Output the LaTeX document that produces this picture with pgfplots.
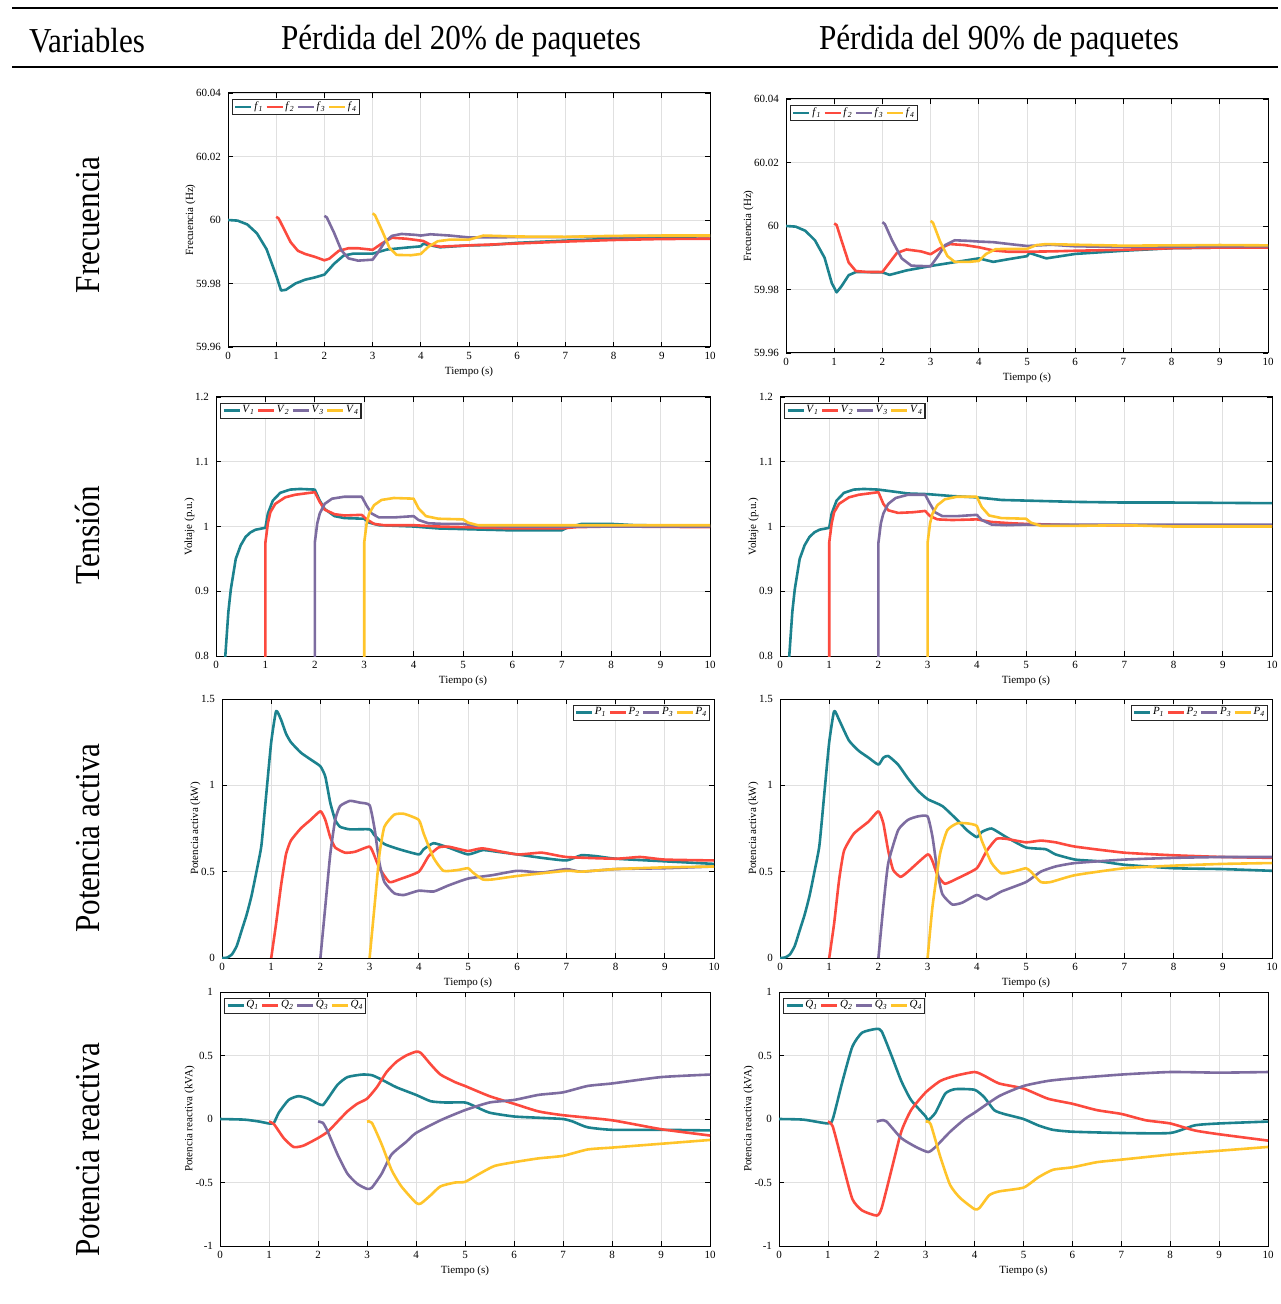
\documentclass[border=0pt]{standalone}
\usepackage{fontspec}
\setmainfont{Liberation Serif}
\usepackage{pgfplots}
\pgfplotsset{compat=1.18}

\definecolor{c1}{RGB}{28,130,142}
\definecolor{c2}{RGB}{252,74,62}
\definecolor{c3}{RGB}{125,108,160}
\definecolor{c4}{RGB}{255,196,42}

\newcommand{\sub}[2]{\textit{#1}\textsubscript{\textit{#2}}}
\newcommand{\plotfont}{\fontsize{5.5}{6}\selectfont}
\newcommand{\hdrtxt}[1]{\scalebox{0.89}[1]{#1}}

\pgfplotsset{
  panel/.style={
    scale only axis,
    anchor=north west,
    xmin=0, xmax=10, xtick={0,...,10},
    grid=major,
    major grid style={draw=black!12, line width=0.4pt},
    axis line style={line width=0.5pt},
    tick align=inside, tick pos=both,
    major tick length=2.5pt,
    tick style={black, line width=0.4pt},
    ticklabel style={font=\plotfont},
    label style={font=\plotfont},
    /pgf/number format/assume math mode=true,
    scaled ticks=false,
    xlabel={Tiempo (s)},
    xticklabel style={yshift=1pt},
    xlabel style={yshift=3pt},
    ylabel style={yshift=-6.5pt},
    legend columns=4,
    legend cell align=left,
    legend style={draw=black!85, line width=0.6pt, fill=white,
      font=\plotfont, inner sep=0.8pt, nodes={inner sep=0.3pt},
      /tikz/every even column/.append style={column sep=0.6pt},
      /tikz/every odd column/.append style={column sep=0.4pt}},
    legend image code/.code={\draw[#1, line width=1.4pt] (0pt,0pt) -- (8pt,0pt);},
    every axis plot/.append style={line width=1.3pt, line join=round, no markers},
  },
  lnw/.style={legend style={at={(0.008,0.977)}, anchor=north west}},
  lne/.style={legend style={at={(0.992,0.977)}, anchor=north east}},
  fq/.style={ymin=59.96, ymax=60.04, ytick={59.96,59.98,60,60.02,60.04},
    ylabel={Frecuencia (Hz)}, yticklabel style={/pgf/number format/precision=2}},
  vv/.style={ymin=0.8, ymax=1.2, ytick={0.8,0.9,1,1.1,1.2}, ylabel={Voltaje (p.u.)}},
  pp/.style={ymin=0, ymax=1.5, ytick={0,0.5,1,1.5}, ylabel={Potencia activa (kW)},
    every axis plot/.append style={smooth, tension=0.3}},
  qq/.style={ymin=-1, ymax=1, ytick={-1,-0.5,0,0.5,1}, ylabel={Potencia reactiva (kVA)},
    every axis plot/.append style={smooth, tension=0.35}},
}

\begin{document}
\begin{tikzpicture}
\useasboundingbox (0pt,0pt) rectangle (640pt,-652pt);

% header
\draw[line width=1pt] (6pt,-4pt) -- (639pt,-4pt);
\draw[line width=1pt] (6pt,-33.5pt) -- (639pt,-33.5pt);
\begin{scope}[every node/.style={font=\fontsize{17.5}{20}\selectfont, inner sep=0pt}]
\node at (43.5pt,-20.5pt) {\hdrtxt{Variables}};
\node at (230.5pt,-20.5pt) {\hdrtxt{Pérdida del 20\% de paquetes}};
\node at (499.5pt,-20.5pt) {\hdrtxt{Pérdida del 90\% de paquetes}};
\node[rotate=90] at (44pt,-112.5pt) {\hdrtxt{Frecuencia}};
\node[rotate=90] at (44pt,-267.5pt) {\hdrtxt{Tensión}};
\node[rotate=90] at (44pt,-419pt) {\hdrtxt{Potencia activa}};
\node[rotate=90] at (44pt,-575pt) {\hdrtxt{Potencia reactiva}};
\end{scope}

% ---------- Frecuencia, 20%
\begin{axis}[panel, fq, lnw, at={(114pt,-46.5pt)}, width=241pt, height=127pt]
\addplot[c1] coordinates {(0,60.0000) (0.2,59.9998) (0.4,59.9986) (0.6,59.9958) (0.8,59.9908) (1.0,59.9825) (1.1,59.9778) (1.2,59.9780) (1.4,59.9800) (1.6,59.9812) (1.8,59.9819) (2.0,59.9828) (2.2,59.9862) (2.4,59.9888) (2.6,59.9894) (3.0,59.9894) (3.3,59.9907) (3.7,59.9913) (4.0,59.9917) (4.05,59.9925) (4.4,59.9914) (5.0,59.9920) (5.4,59.9921) (6,59.9928) (7,59.9935) (8,59.9941) (9,59.9946) (10,59.9949)};
\addplot[c2] coordinates {(1.0,60.0010) (1.05,60.0005) (1.15,59.9975) (1.3,59.9930) (1.45,59.9903) (1.6,59.9893) (1.8,59.9884) (2.0,59.9873) (2.1,59.9878) (2.3,59.9903) (2.5,59.9911) (2.7,59.9911) (3.0,59.9906) (3.2,59.9927) (3.4,59.9944) (3.7,59.9941) (3.95,59.9936) (4.05,59.9934) (4.2,59.9922) (4.4,59.9916) (5.0,59.9920) (6,59.9926) (7,59.9932) (8,59.9937) (9,59.9940) (10,59.9941)};
\addplot[c3] coordinates {(2.0,60.0013) (2.05,60.0008) (2.2,59.9960) (2.35,59.9905) (2.5,59.9879) (2.7,59.9872) (3.0,59.9875) (3.1,59.9895) (3.25,59.9930) (3.4,59.9950) (3.6,59.9956) (3.9,59.9953) (4.0,59.9951) (4.2,59.9955) (4.6,59.9951) (5.0,59.9945) (6,59.9946) (7,59.9946) (8,59.9948) (9,59.9950) (10,59.9950)};
\addplot[c4] coordinates {(3.0,60.0021) (3.05,60.0015) (3.2,59.9965) (3.35,59.9912) (3.5,59.9890) (3.8,59.9889) (4.0,59.9893) (4.15,59.9915) (4.35,59.9933) (4.6,59.9938) (5.0,59.9938) (5.3,59.9951) (6,59.9948) (7,59.9947) (8,59.9950) (9,59.9951) (10,59.9951)};
\legend{\sub{f}{1},\sub{f}{2},\sub{f}{3},\sub{f}{4}}
\end{axis}

% ---------- Frecuencia, 90%
\begin{axis}[panel, fq, lnw, at={(393pt,-49.5pt)}, width=241pt, height=127pt]
\addplot[c1] coordinates {(0,60.0000) (0.2,59.9998) (0.4,59.9985) (0.6,59.9955) (0.8,59.9900) (0.95,59.9820) (1.05,59.9791) (1.15,59.9810) (1.3,59.9845) (1.45,59.9855) (2.0,59.9854) (2.15,59.9846) (2.5,59.9860) (3.0,59.9874) (3.5,59.9886) (4.0,59.9898) (4.3,59.9887) (4.6,59.9895) (5.0,59.9905) (5.05,59.9915) (5.4,59.9898) (6.0,59.9912) (7,59.9922) (8,59.9930) (9,59.9932) (10,59.9933)};
\addplot[c2] coordinates {(1.0,60.0008) (1.05,60.0003) (1.15,59.9955) (1.3,59.9885) (1.45,59.9858) (1.7,59.9855) (2.0,59.9855) (2.15,59.9885) (2.3,59.9915) (2.5,59.9926) (2.8,59.9920) (3.0,59.9911) (3.2,59.9930) (3.4,59.9943) (3.7,59.9940) (4.0,59.9933) (4.3,59.9923) (4.6,59.9919) (5.0,59.9919) (5.5,59.9920) (6,59.9922) (7,59.9925) (8,59.9930) (9,59.9932) (10,59.9932)};
\addplot[c3] coordinates {(2.0,60.0012) (2.05,60.0006) (2.2,59.9955) (2.4,59.9898) (2.6,59.9875) (3.0,59.9873) (3.15,59.9905) (3.3,59.9940) (3.5,59.9955) (3.8,59.9953) (4.0,59.9951) (4.3,59.9949) (4.7,59.9942) (5.0,59.9937) (5.5,59.9941) (6,59.9936) (7,59.9934) (8,59.9935) (9,59.9936) (10,59.9936)};
\addplot[c4] coordinates {(3.0,60.0016) (3.05,60.0010) (3.2,59.9950) (3.35,59.9905) (3.5,59.9887) (3.8,59.9887) (4.0,59.9890) (4.15,59.9912) (4.35,59.9927) (4.6,59.9928) (5.0,59.9928) (5.2,59.9940) (5.4,59.9943) (6,59.9941) (7,59.9938) (8,59.9939) (9,59.9940) (10,59.9939)};
\legend{\sub{f}{1},\sub{f}{2},\sub{f}{3},\sub{f}{4}}
\end{axis}

% ---------- Tension, 20%
\begin{axis}[panel, vv, lnw, at={(108pt,-198.5pt)}, width=247pt, height=129.5pt]
\addplot[c1] coordinates {(0.17,0.78) (0.25,0.868) (0.3,0.903) (0.4,0.950) (0.5,0.971) (0.6,0.984) (0.7,0.991) (0.8,0.995) (1.0,0.998) (1.05,1.020) (1.15,1.040) (1.3,1.052) (1.5,1.057) (1.7,1.058) (2.0,1.057) (2.1,1.040) (2.2,1.027) (2.4,1.016) (2.6,1.013) (3.0,1.012) (3.1,1.006) (3.3,1.002) (4.0,1.000) (4.5,0.997) (5,0.996) (6,0.994) (7,0.994) (7.1,0.998) (7.4,1.004) (8,1.004) (8.5,1.002) (10,1.001)};
\addplot[c2] coordinates {(1.0,0.78) (1.0,0.975) (1.05,1.005) (1.1,1.022) (1.2,1.035) (1.4,1.045) (1.6,1.049) (1.8,1.051) (2.0,1.053) (2.1,1.038) (2.2,1.026) (2.4,1.019) (2.6,1.017) (2.95,1.018) (3.05,1.011) (3.2,1.004) (3.4,1.002) (4.0,1.002) (4.5,1.000) (5,0.999) (6,0.997) (7,0.997) (7.3,0.999) (8,1.000) (10,0.999)};
\addplot[c3] coordinates {(2.0,0.78) (2.0,0.975) (2.05,1.005) (2.1,1.020) (2.2,1.035) (2.35,1.043) (2.6,1.046) (2.95,1.046) (3.05,1.032) (3.15,1.020) (3.3,1.014) (3.6,1.014) (4.0,1.016) (4.1,1.010) (4.3,1.005) (4.6,1.004) (5.0,1.004) (5.3,1.001) (6,1.000) (10,1.000)};
\addplot[c4] coordinates {(3.0,0.78) (3.0,0.975) (3.05,1.005) (3.1,1.020) (3.2,1.033) (3.35,1.041) (3.6,1.044) (4.0,1.043) (4.1,1.028) (4.25,1.016) (4.5,1.012) (5.0,1.011) (5.1,1.006) (5.3,1.002) (6,1.002) (10,1.002)};
\legend{\sub{V}{1},\sub{V}{2},\sub{V}{3},\sub{V}{4}}
\end{axis}

% ---------- Tension, 90%
\begin{axis}[panel, vv, lnw, at={(390pt,-198.5pt)}, width=246pt, height=129.5pt]
\addplot[c1] coordinates {(0.17,0.78) (0.25,0.868) (0.3,0.903) (0.4,0.950) (0.5,0.971) (0.6,0.984) (0.7,0.991) (0.8,0.995) (1.0,0.998) (1.05,1.020) (1.15,1.040) (1.3,1.052) (1.5,1.057) (1.7,1.058) (2.0,1.057) (2.3,1.054) (2.6,1.051) (3.0,1.050) (3.5,1.047) (4.0,1.045) (4.5,1.041) (5,1.040) (6,1.038) (7,1.037) (8,1.037) (10,1.036)};
\addplot[c2] coordinates {(1.0,0.78) (1.0,0.975) (1.05,1.005) (1.1,1.022) (1.2,1.035) (1.4,1.045) (1.6,1.049) (1.8,1.051) (2.0,1.053) (2.1,1.035) (2.2,1.025) (2.4,1.021) (2.7,1.022) (2.95,1.024) (3.05,1.016) (3.2,1.011) (3.5,1.010) (4.0,1.011) (4.3,1.007) (4.7,1.005) (5,1.004) (6,1.002) (7,1.002) (8,1.001) (10,1.000)};
\addplot[c3] coordinates {(2.0,0.78) (2.0,0.975) (2.05,1.005) (2.1,1.020) (2.2,1.035) (2.35,1.044) (2.6,1.049) (2.95,1.049) (3.05,1.035) (3.15,1.022) (3.3,1.016) (3.6,1.016) (4.0,1.018) (4.1,1.010) (4.3,1.003) (4.6,1.002) (5,1.003) (6,1.003) (8,1.003) (10,1.003)};
\addplot[c4] coordinates {(3.0,0.78) (3.0,0.975) (3.05,1.005) (3.1,1.020) (3.2,1.033) (3.35,1.042) (3.6,1.046) (4.0,1.046) (4.1,1.030) (4.25,1.017) (4.5,1.013) (5.0,1.012) (5.1,1.006) (5.3,1.001) (6,1.001) (7,1.002) (8,1.000) (10,1.000)};
\legend{\sub{V}{1},\sub{V}{2},\sub{V}{3},\sub{V}{4}}
\end{axis}

% ---------- Potencia activa, 20%
\begin{axis}[panel, pp, lne, at={(111pt,-349.5pt)}, width=246pt, height=129.5pt]
\addplot[c1] coordinates {(0,0) (0.1,0.002) (0.2,0.02) (0.3,0.07) (0.4,0.16) (0.5,0.25) (0.6,0.36) (0.7,0.50) (0.8,0.65) (0.9,0.95) (1.0,1.25) (1.1,1.43) (1.2,1.38) (1.3,1.30) (1.4,1.25) (1.6,1.19) (1.8,1.15) (2.0,1.11) (2.1,1.05) (2.2,0.90) (2.3,0.80) (2.4,0.76) (2.6,0.745) (3.0,0.745) (3.1,0.71) (3.3,0.66) (3.6,0.63) (4.0,0.60) (4.1,0.63) (4.3,0.665) (4.6,0.64) (5.0,0.60) (5.3,0.625) (5.6,0.615) (6,0.60) (6.5,0.58) (7,0.565) (7.3,0.595) (7.6,0.59) (8,0.575) (9,0.56) (10,0.545)};
\addplot[c2] coordinates {(1,0) (1.1,0.2) (1.2,0.42) (1.3,0.6) (1.4,0.68) (1.6,0.75) (1.8,0.80) (2.0,0.85) (2.1,0.80) (2.2,0.70) (2.3,0.64) (2.5,0.61) (2.7,0.615) (3.0,0.645) (3.1,0.59) (3.2,0.52) (3.4,0.44) (3.6,0.455) (4.0,0.50) (4.2,0.59) (4.4,0.64) (4.6,0.645) (5,0.62) (5.3,0.635) (6,0.60) (6.5,0.61) (7,0.585) (8,0.575) (8.5,0.585) (9,0.57) (10,0.565)};
\addplot[c3] coordinates {(2,0) (2.1,0.3) (2.2,0.6) (2.3,0.8) (2.4,0.88) (2.6,0.91) (2.8,0.90) (3.0,0.885) (3.1,0.75) (3.2,0.55) (3.3,0.44) (3.5,0.375) (3.7,0.365) (4,0.39) (4.3,0.385) (4.6,0.42) (5,0.46) (5.5,0.48) (6,0.505) (6.5,0.495) (7,0.515) (7.3,0.50) (8,0.515) (9,0.52) (10,0.53)};
\addplot[c4] coordinates {(3,0) (3.1,0.3) (3.2,0.6) (3.3,0.76) (3.5,0.83) (3.7,0.835) (4,0.80) (4.1,0.72) (4.3,0.58) (4.5,0.505) (4.8,0.51) (5,0.52) (5.1,0.495) (5.3,0.455) (5.5,0.455) (6,0.475) (7,0.505) (7.3,0.50) (8,0.515) (9,0.525) (10,0.53)};
\legend{\sub{P}{1},\sub{P}{2},\sub{P}{3},\sub{P}{4}}
\end{axis}

% ---------- Potencia activa, 90%
\begin{axis}[panel, pp, lne, at={(390pt,-349.5pt)}, width=246pt, height=129.5pt]
\addplot[c1] coordinates {(0,0) (0.1,0.003) (0.2,0.02) (0.3,0.07) (0.4,0.16) (0.5,0.25) (0.6,0.36) (0.7,0.50) (0.8,0.65) (0.9,0.95) (1.0,1.25) (1.1,1.43) (1.2,1.38) (1.4,1.26) (1.6,1.20) (1.8,1.16) (2.0,1.12) (2.1,1.16) (2.2,1.17) (2.4,1.12) (2.6,1.04) (2.8,0.97) (3.0,0.92) (3.3,0.88) (3.6,0.80) (3.8,0.74) (4.0,0.70) (4.1,0.73) (4.3,0.75) (4.6,0.70) (5.0,0.64) (5.4,0.63) (5.6,0.60) (6,0.57) (6.5,0.56) (7,0.54) (8,0.52) (9,0.515) (10,0.505)};
\addplot[c2] coordinates {(1,0) (1.1,0.2) (1.2,0.45) (1.3,0.62) (1.5,0.72) (1.8,0.79) (2.0,0.85) (2.1,0.78) (2.2,0.62) (2.3,0.51) (2.45,0.47) (2.6,0.50) (3.0,0.60) (3.1,0.56) (3.2,0.48) (3.35,0.43) (3.6,0.46) (4.0,0.52) (4.2,0.62) (4.4,0.69) (4.6,0.69) (5,0.67) (5.3,0.68) (5.6,0.67) (6,0.645) (7,0.61) (8,0.595) (9,0.585) (10,0.58)};
\addplot[c3] coordinates {(2,0) (2.1,0.3) (2.2,0.55) (2.4,0.74) (2.6,0.80) (2.8,0.82) (3.0,0.82) (3.1,0.7) (3.2,0.5) (3.3,0.37) (3.5,0.31) (3.7,0.32) (4.0,0.365) (4.2,0.34) (4.5,0.385) (5,0.44) (5.3,0.50) (5.6,0.53) (6,0.55) (7,0.57) (8,0.58) (9,0.585) (10,0.585)};
\addplot[c4] coordinates {(3,0) (3.1,0.3) (3.25,0.6) (3.4,0.74) (3.6,0.78) (3.8,0.78) (4.0,0.765) (4.1,0.68) (4.3,0.55) (4.5,0.49) (4.8,0.505) (5,0.52) (5.1,0.50) (5.3,0.44) (5.5,0.44) (6,0.48) (7,0.52) (8,0.535) (9,0.545) (10,0.55)};
\legend{\sub{P}{1},\sub{P}{2},\sub{P}{3},\sub{P}{4}}
\end{axis}

% ---------- Potencia reactiva, 20%
\begin{axis}[panel, qq, lnw, at={(110pt,-496pt)}, width=245pt, height=127pt]
\addplot[c1] coordinates {(0,0) (0.5,-0.005) (0.8,-0.02) (1.0,-0.035) (1.1,-0.03) (1.2,0.05) (1.4,0.15) (1.6,0.18) (1.8,0.16) (2.0,0.12) (2.1,0.11) (2.2,0.16) (2.4,0.27) (2.6,0.33) (2.9,0.35) (3.1,0.345) (3.3,0.31) (3.6,0.25) (4.0,0.19) (4.3,0.14) (4.6,0.13) (5.0,0.13) (5.2,0.10) (5.5,0.05) (6.0,0.02) (6.5,0.01) (7.0,0.0) (7.2,-0.02) (7.5,-0.065) (8,-0.085) (9,-0.085) (10,-0.09)};
\addplot[c2] coordinates {(1,-0.02) (1.1,-0.04) (1.3,-0.15) (1.5,-0.22) (1.7,-0.21) (2.0,-0.15) (2.2,-0.10) (2.4,-0.02) (2.6,0.06) (2.8,0.12) (3.0,0.16) (3.2,0.25) (3.4,0.37) (3.6,0.45) (3.8,0.50) (4.0,0.53) (4.1,0.52) (4.3,0.43) (4.5,0.35) (4.8,0.29) (5.0,0.26) (5.5,0.18) (6,0.12) (6.5,0.06) (7,0.03) (8,-0.01) (9,-0.08) (10,-0.13)};
\addplot[c3] coordinates {(2,-0.02) (2.1,-0.03) (2.2,-0.10) (2.4,-0.28) (2.6,-0.43) (2.8,-0.51) (3.0,-0.55) (3.1,-0.54) (3.3,-0.43) (3.5,-0.28) (3.8,-0.18) (4.0,-0.11) (4.5,-0.01) (5.0,0.07) (5.5,0.13) (6,0.15) (6.5,0.19) (7,0.21) (7.5,0.26) (8,0.28) (9,0.33) (10,0.35)};
\addplot[c4] coordinates {(3,-0.02) (3.1,-0.03) (3.3,-0.20) (3.5,-0.40) (3.7,-0.53) (4.0,-0.66) (4.1,-0.665) (4.3,-0.60) (4.5,-0.53) (4.8,-0.50) (5.0,-0.495) (5.3,-0.43) (5.6,-0.37) (6,-0.34) (6.5,-0.31) (7,-0.29) (7.5,-0.24) (8,-0.225) (9,-0.195) (10,-0.165)};
\legend{\sub{Q}{1},\sub{Q}{2},\sub{Q}{3},\sub{Q}{4}}
\end{axis}

% ---------- Potencia reactiva, 90%
\begin{axis}[panel, qq, lnw, at={(389.5pt,-496pt)}, width=244.5pt, height=127pt]
\addplot[c1] coordinates {(0,0) (0.5,-0.005) (1.0,-0.035) (1.1,0.0) (1.3,0.30) (1.5,0.57) (1.7,0.68) (2.0,0.71) (2.1,0.69) (2.3,0.50) (2.5,0.30) (2.7,0.15) (3.0,0.02) (3.05,-0.01) (3.2,0.05) (3.4,0.20) (3.6,0.235) (4.0,0.23) (4.2,0.17) (4.4,0.07) (4.6,0.04) (5.0,0.0) (5.3,-0.05) (5.6,-0.085) (6,-0.10) (7,-0.11) (8,-0.11) (8.5,-0.05) (9,-0.035) (10,-0.02)};
\addplot[c2] coordinates {(1,-0.02) (1.1,-0.06) (1.3,-0.35) (1.5,-0.63) (1.7,-0.72) (2.0,-0.76) (2.1,-0.70) (2.3,-0.40) (2.5,-0.10) (2.7,0.07) (3.0,0.21) (3.3,0.30) (3.6,0.34) (4.0,0.37) (4.2,0.34) (4.5,0.28) (5.0,0.24) (5.5,0.16) (6,0.12) (6.5,0.07) (7,0.04) (7.5,-0.01) (8,-0.035) (8.5,-0.09) (9,-0.12) (10,-0.17)};
\addplot[c3] coordinates {(2,-0.02) (2.1,-0.01) (2.2,-0.02) (2.5,-0.15) (2.8,-0.22) (3.05,-0.26) (3.2,-0.22) (3.5,-0.10) (3.8,0.0) (4.0,0.05) (4.5,0.18) (5,0.26) (5.5,0.30) (6,0.32) (7,0.35) (8,0.37) (9,0.365) (10,0.37)};
\addplot[c4] coordinates {(3,-0.02) (3.1,-0.04) (3.3,-0.30) (3.5,-0.52) (3.7,-0.62) (4.0,-0.71) (4.1,-0.70) (4.3,-0.60) (4.5,-0.57) (5.0,-0.54) (5.3,-0.46) (5.6,-0.40) (6,-0.38) (6.5,-0.34) (7,-0.32) (8,-0.28) (9,-0.25) (10,-0.22)};
\legend{\sub{Q}{1},\sub{Q}{2},\sub{Q}{3},\sub{Q}{4}}
\end{axis}
\end{tikzpicture}
\end{document}
